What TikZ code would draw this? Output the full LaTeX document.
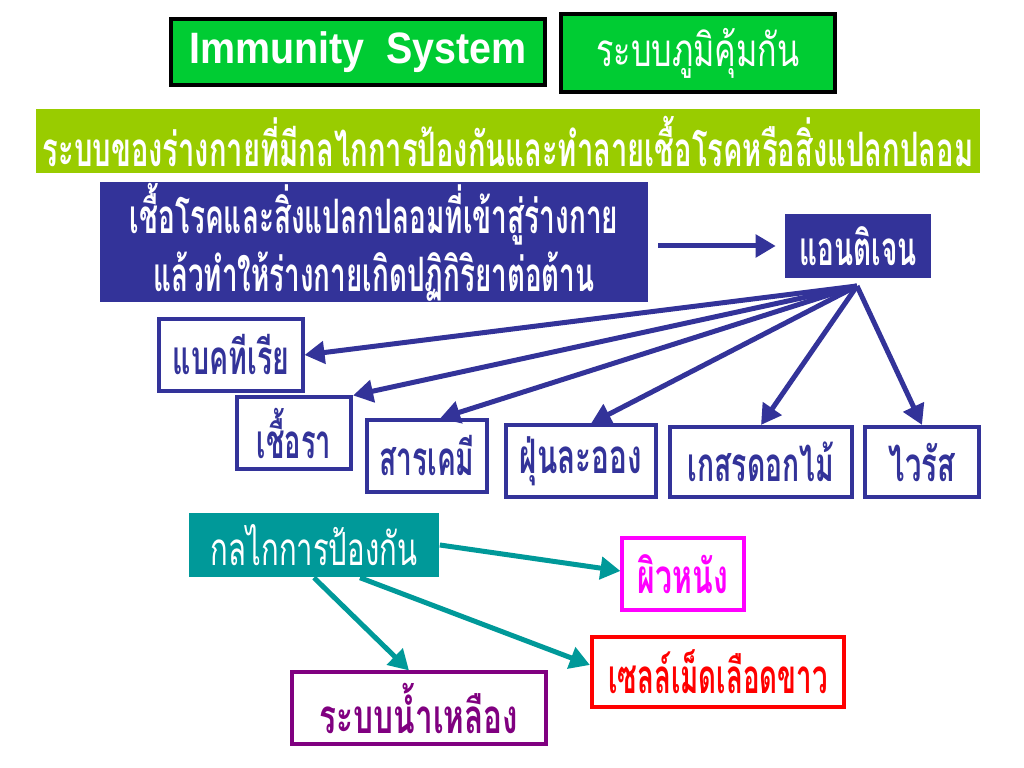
\documentclass[tikz,border=0pt]{standalone}
\usepackage{fontspec}
\usepackage{graphicx}
\usepackage{xcolor}
\usepackage{tikz}
\usetikzlibrary{arrows.meta, positioning}

\newfontfamily\thai[Script=Thai]{Loma}
\newfontfamily\latin{Liberation Sans}
\definecolor{titlegreen}{HTML}{00CC33}
\definecolor{limebar}{HTML}{99CC00}
\definecolor{navy}{HTML}{333399}
\definecolor{teal}{HTML}{009999}
\definecolor{skinpink}{HTML}{FF00FF}
\definecolor{lymphpurple}{HTML}{800080}
\definecolor{cellred}{HTML}{FF0000}
\newcommand{\fitw}[2]{\resizebox{#1}{\height}{#2}}

\begin{document}
\begin{tikzpicture}[
            x=0.01cm, y=-0.01cm,
            fillbox/.style={rectangle, inner sep=0pt, text=white,
                    font=\thai\bfseries\fontsize{13.5}{16.5}\selectfont},
            outbox/.style={rectangle, draw=#1, line width=0.04cm, fill=white, text=#1, inner sep=0pt,
                    minimum height=0.71cm, font=\thai\bfseries\fontsize{13.5}{15}\selectfont},
            navyarrow/.style={draw=navy, line width=0.05cm, -{Triangle[length=0.2cm, width=0.22cm]}},
            tealarrow/.style={draw=teal, line width=0.05cm, -{Triangle[length=0.2cm, width=0.22cm]}}
        ]
        \useasboundingbox (0,0) rectangle (1024,768);

        % Titles
        \node[fillbox, fill=titlegreen, draw=black, line width=0.035cm, minimum width=3.74cm, minimum height=0.66cm]
            (title_en) at (358,52) {\latin\fontsize{12.5}{14}\selectfont\fitw{3.37cm}{Immunity\ \ System}};
        \node[fillbox, fill=titlegreen, draw=black, line width=0.035cm, minimum width=2.74cm, minimum height=0.78cm,
            font=\thai\fontsize{13}{15}\selectfont]
            (title_th) at (698,53) {\fitw{2.03cm}{ระบบภูมิคุ้มกัน}};
        \node[fillbox, fill=limebar, minimum width=9.44cm, minimum height=0.64cm]
            (meaning) at (508,141) {\fitw{9.30cm}{ระบบของร่างกายที่มีกลไกการป้องกันและทำลายเชื้อโรคหรือสิ่งแปลกปลอม}};

        % Antigen
        \node[fillbox, fill=navy, minimum width=5.47cm, minimum height=1.19cm, align=center]
            (cause) at (374,242) {\fitw{4.88cm}{เชื้อโรคและสิ่งแปลกปลอมที่เข้าสู่ร่างกาย}\\
                \fitw{4.41cm}{แล้วทำให้ร่างกายเกิดปฏิกิริยาต่อต้าน}};
        \node[fillbox, fill=navy, minimum width=1.45cm, minimum height=0.64cm]
            (antigen) at (858,246) {\fitw{1.17cm}{แอนติเจน}};
        \draw[navyarrow, shorten <=0.1cm, shorten >=0.09cm] (cause.east |- antigen.west) -- (antigen.west);

        \node[outbox=navy, minimum width=1.43cm] (bacteria) at (231,355) {\fitw{1.16cm}{แบคทีเรีย}};
        \node[outbox=navy, minimum width=1.14cm] (fungus) at (294,433) {\fitw{0.74cm}{เชื้อรา}};
        \node[outbox=navy, minimum width=1.19cm] (chem) at (427,456) {\fitw{0.95cm}{สารเคมี}};
        \node[outbox=navy, minimum width=1.50cm] (dust) at (581,461) {\fitw{1.22cm}{ฝุ่นละออง}};
        \node[outbox=navy, minimum width=1.82cm, minimum height=0.70cm] (pollen) at (761,462) {\fitw{1.46cm}{เกสรดอกไม้}};
        \node[outbox=navy, minimum width=1.13cm, minimum height=0.70cm] (virus) at (922,462) {\fitw{0.66cm}{ไวรัส}};

        \coordinate (fan) at (857,286);
        \draw[navyarrow] (fan) -- (bacteria.east);
        \draw[navyarrow] (fan) -- (fungus.north east);
        \draw[navyarrow] (fan) -- ([xshift=0.13cm]chem.north);
        \draw[navyarrow] (fan) -- ([xshift=0.1cm]dust.north);
        \draw[navyarrow] (fan) -- (pollen.north);
        \draw[navyarrow] (fan) -- (virus.north);

        % Defence
        \node[fillbox, fill=teal, minimum width=2.50cm, minimum height=0.64cm,
            font=\thai\fontsize{13}{15}\selectfont]
            (defense) at (314,545) {\fitw{2.06cm}{กลไกการป้องกัน}};
        \node[outbox=skinpink, minimum width=1.21cm] (skin) at (683,574) {\fitw{0.90cm}{ผิวหนัง}};
        \node[outbox=cellred, minimum width=2.52cm, minimum height=0.70cm] (wbc) at (718,672) {\fitw{2.19cm}{เซลล์เม็ดเลือดขาว}};
        \node[outbox=lymphpurple, minimum width=2.53cm] (lymph) at (419,708) {\fitw{1.98cm}{ระบบน้ำเหลือง}};

        \draw[tealarrow] (defense.east) -- ([yshift=0.03cm]skin.west);
        \draw[tealarrow] (defense.south) -- ([xshift=-0.1cm]lymph.north);
        \draw[tealarrow] ([xshift=0.46cm]defense.south) -- ([yshift=0.07cm]wbc.west);
    \end{tikzpicture}
\end{document}
